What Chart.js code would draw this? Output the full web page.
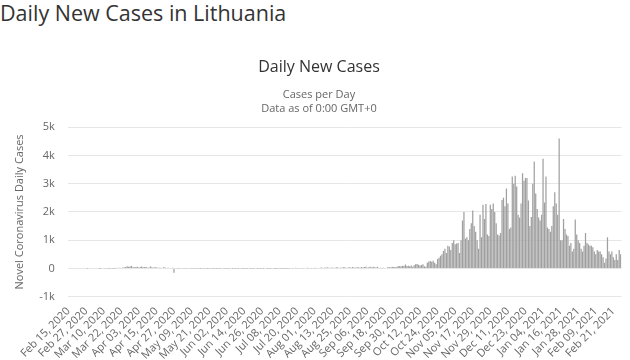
<!DOCTYPE html>
<html>
<head>
<meta charset="utf-8">
<script src="https://cdn.jsdelivr.net/npm/chart.js@4"></script>
<style>
  body { margin: 0; background: #fff; }
  .wrap { position: relative; width: 630px; height: 360px; }
  .page-title { position: absolute; left: 0; top: -2px; font: 21.5px "Open Sans", sans-serif; color: #333; }
  canvas { position: absolute; left: 0; top: 0; }
</style>
</head>
<body>
<div class="wrap">
  <div class="page-title">Daily New Cases in Lithuania</div>
  <canvas class="graf-cases" width="630" height="360"></canvas>
</div>
<script>
const startDate = [2020, 1, 15];   // Feb 15, 2020
const monthNames = ['Jan', 'Feb', 'Mar', 'Apr', 'May', 'Jun', 'Jul', 'Aug', 'Sep', 'Oct', 'Nov', 'Dec'];
const yTicks = [-1000, 0, 1000, 2000, 3000, 4000, 5000];

// daily new cases, Feb 15 2020 .. Feb 26 2021
const dailyCases = [
    0, 0, 0, 0, 0, 0, 0, 0, 0, 0,
    0, 0, 0, 1, 0, 0, 0, 0, 0, 0,
    0, 1, 2, 0, 0, 3, 0, 2, 3, 9,
    5, 2, 10, 22, 17, 25, 18, 36, 38, 50,
    74, 56, 65, 83, 46, 40, 55, 61, 32, 47,
    66, 44, 53, 47, 26, 34, 71, 42, 24, 53,
    31, 28, 22, 29, 16, 41, 30, 18, 21, 14,
    12, 22, -150, 17, 9, 8, 5, 16, 9, 6,
    10, 6, 12, 4, 9, 7, 3, 5, 8, 4,
    2, 6, 10, 3, 5, 2, 4, 7, 3, 1,
    4, 2, 5, 1, 3, 0, 4, 2, 6, 1,
    3, 0, 2, 5, 1, 3, 2, 0, 4, 1,
    2, 3, 1, 0, 2, 6, 1, 3, 0, 2,
    4, 1, 5, 2, 0, 3, 1, 4, 2, 0,
    3, 2, 1, 4, 6, 2, 3, 1, 5, 2,
    4, 8, 12, 5, 16, 21, 9, 14, 11, 18,
    7, 20, 15, 24, 6, 13, 10, 19, 8, 22,
    17, 12, 25, 30, 14, 38, 22, 41, 18, 29,
    35, 16, 27, 44, 33, 20, 38, 25, 47, 30,
    18, 36, 42, 28, 51, 37, 22, 45, 39, 26,
    55, 33, 48, 60, 29, 41, 57, 35, 64, 46,
    30, 58, 15, 22, 10, 28, 18, 12, 45, 52,
    38, 60, 48, 55, 40, 90, 82, 75, 96, 88,
    140, 85, 92, 78, 100, 60, 110, 150, 155, 130,
    100, 120, 150, 80, 60, 200, 250, 260, 240, 270,
    200, 150, 330, 380, 450, 500, 620, 700, 550, 800,
    780, 650, 900, 1000, 860, 880, 900, 550, 1000, 1700,
    2000, 1050, 1100, 1000, 1400, 1600, 2050, 1500, 1300, 1000,
    700, 1900, 1100, 2250, 1750, 2280, 1200, 1150, 2250, 2100,
    2300, 2000, 1600, 1200, 1170, 1250, 2420, 2500, 2200, 2830,
    2300, 1400, 1450, 3250, 3000, 3280, 2900, 1900, 1800, 2300,
    3370, 3100, 3200, 3200, 2400, 1500, 1820, 3000, 3780, 2650,
    2100, 1800, 1700, 1900, 3880, 2330, 3250, 1450, 1400, 1300,
    1500, 2200, 2700, 2300, 1900, 4600, 1000, 1000, 1750, 1400,
    1200, 1150, 800, 900, 600, 700, 1730, 1200, 1000, 900,
    700, 600, 800, 1250, 900, 850, 800, 800, 750, 600,
    500, 650, 600, 600, 500, 400, 200, 350, 1100, 600,
    500, 600, 400, 300, 500, 300, 650, 500
];

const dayLabels = [];
for (let i = 0; i < dailyCases.length; i++) {
    const d = new Date(startDate[0], startDate[1], startDate[2] + i);
    dayLabels.push(monthNames[d.getMonth()] + ' ' + String(d.getDate()).padStart(2, '0') + ', ' + d.getFullYear());
}

const fam = '"Open Sans", sans-serif';
const ctx = document.querySelector('.graf-cases');

let myChart = new Chart(ctx, {
    type: 'bar',
    data: {
        labels: dayLabels,
        datasets: [{
            label: 'Daily Cases',
            data: dailyCases,
            backgroundColor: '#a0a0a0',
            borderWidth: 0,
            barPercentage: 0.85,
            categoryPercentage: 1
        }]
    },
    options: {
        responsive: false,
        animation: false,
        layout: { padding: { top: 58, left: 13, right: 5, bottom: -2 } },
        plugins: {
            legend: { display: false },
            tooltip: { enabled: false },
            title: {
                display: true,
                text: 'Daily New Cases',
                color: '#333',
                font: { family: fam, size: 16, weight: 'normal' },
                padding: { top: 0, bottom: 11 }
            },
            subtitle: {
                display: true,
                text: ['Cases per Day', 'Data as of 0:00 GMT+0'],
                color: '#666',
                font: { family: fam, size: 11, lineHeight: 1.27 },
                padding: { top: 0, bottom: 11 }
            }
        },
        scales: {
            x: {
                offset: true,
                grid: { display: false },
                border: { display: false },
                ticks: {
                    autoSkip: false,
                    minRotation: 45,
                    maxRotation: 45,
                    color: '#666',
                    padding: 0,
                    font: { family: fam, size: 11 },
                    callback: function (v, i) {
                        return i % 12 === 0 ? this.getLabelForValue(v) : '';
                    }
                }
            },
            y: {
                min: yTicks[0],
                max: yTicks[yTicks.length - 1],
                afterBuildTicks: (axis) => { axis.ticks = yTicks.map(v => ({ value: v })); },
                grid: { color: '#e6e6e6', drawTicks: false },
                border: { display: false },
                title: {
                    display: true,
                    text: 'Novel Coronavirus Daily Cases',
                    color: '#666',
                    font: { family: fam, size: 11 },
                    padding: { top: 0, bottom: 0 }
                },
                ticks: {
                    color: '#666',
                    padding: 13,
                    font: { family: fam, size: 11 },
                    callback: (v) => v === 0 ? '0' : (v / 1000) + 'k'
                }
            }
        }
    }
});
</script>
</body>
</html>
